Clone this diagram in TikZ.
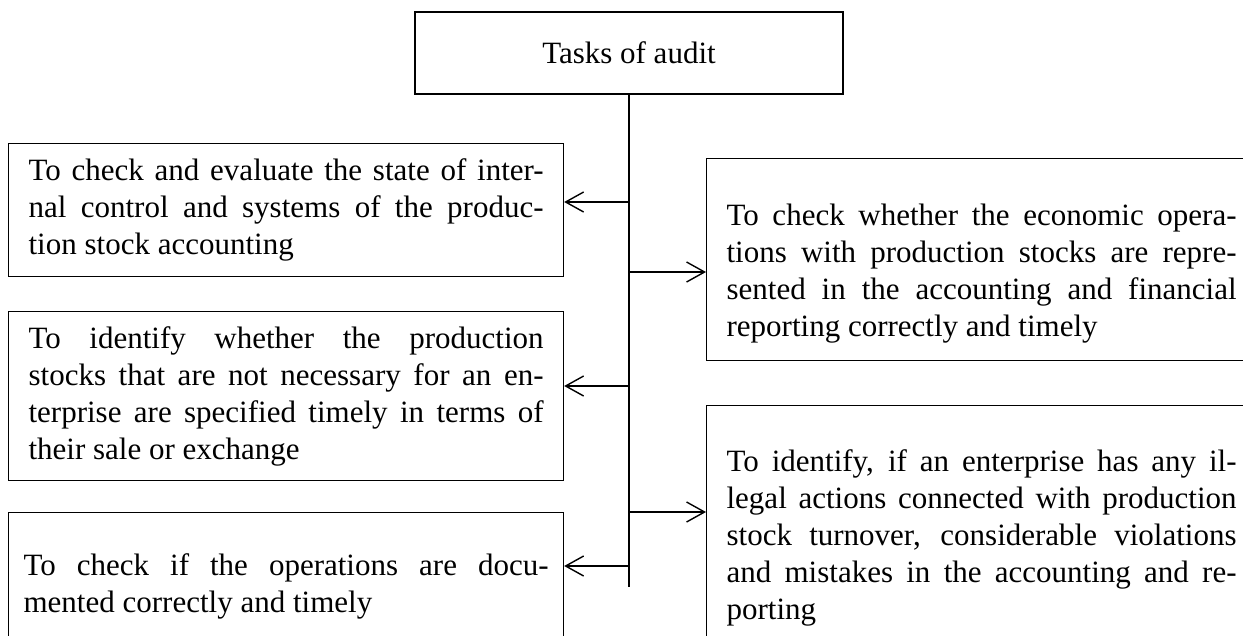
\documentclass[tikz,border=0pt]{standalone}
\usepackage{fontspec}
\setmainfont{Liberation Serif}
\usetikzlibrary{arrows.meta}

\begin{document}
\begin{tikzpicture}[x=1pt, y=-1pt,
    taskbox/.style={draw, line width=1.2pt, align=justify, text width=515pt,
        inner xsep=20pt, anchor=north west,
        font=\fontsize{31pt}{37pt}\selectfont\sloppy},
    headbox/.style={draw, line width=1.2pt, minimum width=428pt, minimum height=82pt,
        font=\fontsize{31pt}{37pt}\selectfont},
    arr/.style={line width=1.4pt, -{Straight Barb[length=18pt,width=20pt]}}]
    % Frame
    \useasboundingbox (0,0) rectangle (1243,635);
    \clip (0,0) rectangle (1243,635);
    % Head
    \node[headbox] (tasks) at (629,53) {Tasks of audit};
    % Left boxes
    \node[taskbox, minimum height=133pt] (lbox1) at (8,143) {To check and evaluate the state of inter-\linebreak nal control and systems of the produc-\linebreak tion stock accounting};
    \node[taskbox, minimum height=169pt] (lbox2) at (8,311) {To identify whether the production\linebreak stocks that are not necessary for an en-\linebreak terprise are specified timely in terms of\linebreak their sale or exchange};
    \node[taskbox, minimum height=148pt, text width=525pt, inner xsep=15pt] (lbox3) at (8,512) {To check if the operations are docu-\linebreak mented correctly and timely};
    % Right boxes
    \node[taskbox, minimum height=202pt, text width=510pt] (rbox1) at (706,158) {\rule{0pt}{50pt}To check whether the economic opera-\linebreak tions with production stocks are repre-\linebreak sented in the accounting and financial\linebreak reporting correctly and timely};
    \node[taskbox, minimum height=264pt, text width=510pt] (rbox2) at (706,405) {To identify, if an enterprise has any il-\linebreak legal actions connected with production\linebreak stock turnover, considerable violations\linebreak and mistakes in the accounting and re-\linebreak porting};
    % Trunk
    \coordinate (end) at (629,587);
    \draw[line width=2pt] (tasks.south) -- (end);
    \coordinate (j1) at (629,202);
    \coordinate (j2) at (629,272);
    \coordinate (j3) at (629,386);
    \coordinate (j4) at (629,512);
    \coordinate (j5) at (629,566);
    % Arrows
    \draw[arr] (j1) -- (j1 -| lbox1.east);
    \draw[arr] (j2) -- (j2 -| rbox1.west);
    \draw[arr] (j3) -- (j3 -| lbox2.east);
    \draw[arr] (j4) -- (j4 -| rbox2.west);
    \draw[arr] (j5) -- (j5 -| lbox3.east);
\end{tikzpicture}
\end{document}
